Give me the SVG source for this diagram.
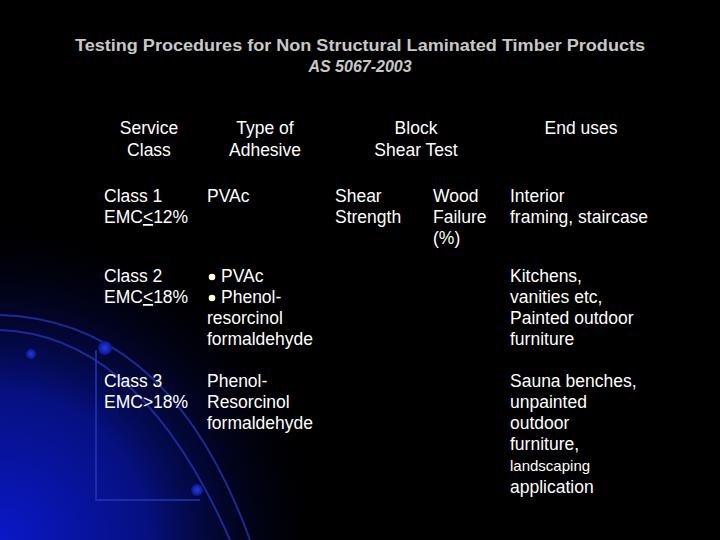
<svg xmlns="http://www.w3.org/2000/svg" width="720" height="540" viewBox="0 0 720 540">
<defs>
<radialGradient id="glow" cx="0" cy="540" r="330" gradientUnits="userSpaceOnUse">
<stop offset="0" stop-color="#0a18c8"/><stop offset="0.45" stop-color="#061080"/><stop offset="1" stop-color="#000" stop-opacity="0"/>
</radialGradient>
<radialGradient id="dot"><stop offset="0" stop-color="#2a3ae0"/><stop offset="1" stop-color="#0a1590"/></radialGradient>
<style>
text{font-family:"Liberation Sans",Arial,sans-serif;font-size:17.5px;fill:#fff}
.t{fill:#c8c8c8;font-size:16px;font-weight:bold}
.arc{fill:none;stroke:#2233b0;stroke-width:2;opacity:.8}
.sm{font-size:15px}
</style>
</defs>
<rect width="720" height="540" fill="#000"/>
<rect width="720" height="540" fill="url(#glow)"/>
<path class="arc" d="M0 330 Q140 335 230 540"/>
<path class="arc" d="M0 315 Q170 320 250 540"/>
<path class="arc" d="M96 350 L96 500 L200 500" opacity=".15"/>
<circle cx="105" cy="348" r="7" fill="url(#dot)"/>
<circle cx="31" cy="354" r="5" fill="url(#dot)"/>
<circle cx="197" cy="490" r="6" fill="url(#dot)"/>
<g id="title">
<text class="t" x="360" y="51" text-anchor="middle" textLength="570" lengthAdjust="spacingAndGlyphs">Testing Procedures for Non Structural Laminated Timber Products</text>
<text class="t" x="360" y="72" text-anchor="middle" font-style="italic">AS 5067-2003</text>
</g>
<g id="headers" text-anchor="middle">
<text x="149" y="134">Service</text><text x="149" y="156">Class</text>
<text x="265" y="134">Type of</text><text x="265" y="156">Adhesive</text>
<text x="416" y="134">Block</text><text x="416" y="156">Shear Test</text>
<text x="581" y="134">End uses</text>
</g>
<g id="row1">
<text x="104" y="202">Class 1</text><text x="104" y="223">EMC<tspan text-decoration="underline">&lt;</tspan>12%</text>
<text x="207" y="202">PVAc</text>
<text x="335" y="202">Shear</text><text x="335" y="223">Strength</text>
<text x="433" y="202">Wood</text><text x="433" y="223">Failure</text><text x="433" y="244">(%)</text>
<text x="510" y="202">Interior</text><text x="510" y="223">framing, staircase</text>
</g>
<g id="row2">
<text x="104" y="282">Class 2</text><text x="104" y="303">EMC<tspan text-decoration="underline">&lt;</tspan>18%</text>
<circle cx="212" cy="277" r="3.3" fill="#ffffe0"/><circle cx="212" cy="298" r="3.3" fill="#ffffe0"/>
<text x="221" y="282">PVAc</text><text x="221" y="303">Phenol-</text>
<text x="207" y="324">resorcinol</text><text x="207" y="345">formaldehyde</text>
<text x="510" y="282">Kitchens,</text><text x="510" y="303">vanities etc,</text><text x="510" y="324">Painted outdoor</text><text x="510" y="345">furniture</text>
</g>
<g id="row3">
<text x="104" y="387">Class 3</text><text x="104" y="408">EMC&gt;18%</text>
<text x="207" y="387">Phenol-</text><text x="207" y="408">Resorcinol</text><text x="207" y="429">formaldehyde</text>
<text x="510" y="387">Sauna benches,</text><text x="510" y="408">unpainted</text><text x="510" y="429">outdoor</text><text x="510" y="450">furniture,</text>
<text class="sm" x="510" y="471">landscaping</text><text x="510" y="493">application</text>
</g>
</svg>
